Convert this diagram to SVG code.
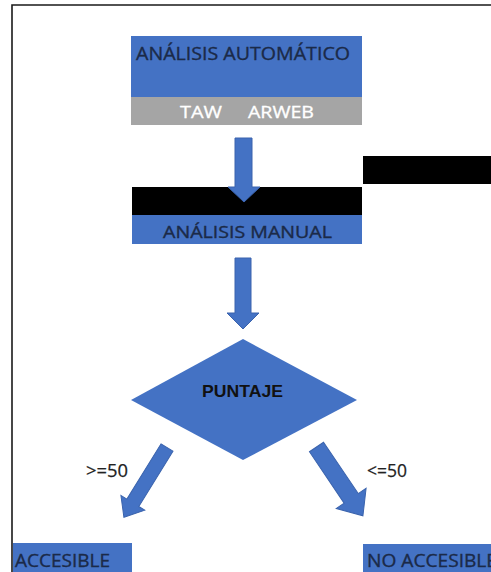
<svg xmlns="http://www.w3.org/2000/svg" width="491" height="572" viewBox="0 0 491 572">
  <style>
    .blue { fill: #4472C4; }
    .grey { fill: #A5A5A5; }
    .mask { fill: #000000; }
    .arrow { fill: #4472C4; stroke: #3A63AD; stroke-width: 1; stroke-linejoin: miter; }
    .lbl { font-family: "Open Sans", "Noto Sans", "Liberation Sans", sans-serif; fill: #1B2A48; stroke: #1B2A48; stroke-width: 0.35; }
    .white { font-family: "Open Sans", "Noto Sans", "Liberation Sans", sans-serif; fill: #FFFFFF; stroke: #FFFFFF; stroke-width: 0.3; }
    .dark { font-family: "Liberation Sans", Arial, sans-serif; font-weight: bold; fill: #111111; }
    .cond { font-family: "Open Sans", "Noto Sans", "Liberation Sans", sans-serif; fill: #222222; stroke: #222222; stroke-width: 0.25; }
  </style>

  <rect x="0" y="0" width="491" height="572" fill="#FFFFFF"/>

  <!-- page frame -->
  <path d="M12,572 V5 H491" fill="none" stroke="#1A1A1A" stroke-width="1.6"/>

  <!-- black bars -->
  <rect class="mask" x="363" y="156" width="128" height="28"/>
  <rect class="mask" x="132" y="187" width="230" height="28"/>

  <g id="auto">
    <rect class="blue" x="131" y="36" width="231" height="61"/>
    <rect class="grey" x="131" y="97" width="231" height="28"/>
    <text class="lbl" x="136" y="60" font-size="18.5" textLength="214" lengthAdjust="spacingAndGlyphs">ANÁLISIS AUTOMÁTICO</text>
    <text class="white" x="180" y="118" font-size="16" textLength="42" lengthAdjust="spacingAndGlyphs">TAW</text>
    <text class="white" x="248" y="118" font-size="16" textLength="66" lengthAdjust="spacingAndGlyphs">ARWEB</text>
  </g>

  <g id="manual">
    <rect class="blue" x="132" y="215" width="230" height="29"/>
    <text class="lbl" x="163" y="238" font-size="16" textLength="169" lengthAdjust="spacingAndGlyphs">ANÁLISIS MANUAL</text>
  </g>

  <g id="puntaje">
    <polygon class="blue" points="243,339 357,400 243,460 131,400"/>
    <text class="dark" x="202" y="397" font-size="16.5" textLength="81" lengthAdjust="spacingAndGlyphs">PUNTAJE</text>
  </g>

  <g id="accesible">
    <rect class="blue" x="13" y="543" width="119" height="29"/>
    <text class="lbl" x="15" y="567" font-size="18" textLength="95" lengthAdjust="spacingAndGlyphs">ACCESIBLE</text>
  </g>

  <g id="no-accesible">
    <rect class="blue" x="363" y="544" width="128" height="28"/>
    <text class="lbl" x="367" y="567" font-size="18" textLength="130" lengthAdjust="spacingAndGlyphs">NO ACCESIBLE</text>
  </g>

  <g id="connectors">
    <polygon class="arrow" points="235,138 252,138 252,187 260,187 244,202 228,187 235,187"/>
    <polygon class="arrow" points="235,258 251,258 251,313 259,313 243,329 227,313 235,313"/>
    <polygon class="arrow" transform="translate(167,447.5) rotate(121.7)" points="0,-7 65,-7 65,-14 82,0 65,14 65,7 0,7"/>
    <polygon class="arrow" transform="translate(316.5,447) rotate(56)" points="0,-8.5 62,-8.5 62,-18 83,0 62,18 62,8.5 0,8.5"/>
    <text class="cond" x="86" y="477" font-size="18" textLength="42" lengthAdjust="spacingAndGlyphs">&gt;=50</text>
    <text class="cond" x="367" y="477" font-size="18" textLength="40" lengthAdjust="spacingAndGlyphs">&lt;=50</text>
  </g>
</svg>
